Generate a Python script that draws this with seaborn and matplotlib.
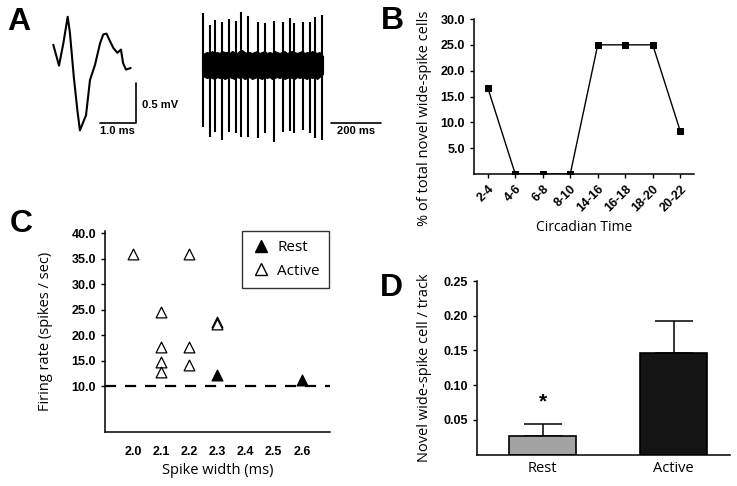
import matplotlib
matplotlib.use("Agg")
import matplotlib.pyplot as plt
import seaborn as sns
import numpy as np
import pandas as pd
from matplotlib.lines import Line2D

# ---- data ----
# A: single wide spike (time in ms, voltage in mV)
wave_t = [0.0, 0.16, 0.28, 0.40, 0.46, 0.57, 0.67, 0.74, 0.91, 1.02, 1.16, 1.30,
          1.39, 1.48, 1.56, 1.67, 1.78, 1.88, 1.94, 2.02, 2.15]
wave_v = [0.69, 0.43, 0.71, 1.04, 0.85, 0.29, -0.13, -0.38, -0.19, 0.25, 0.44, 0.71,
          0.82, 0.83, 0.75, 0.65, 0.59, 0.63, 0.46, 0.38, 0.40]

# A: raw trace (time in ms, amplitude in a.u.)
spike_times = [4, 32, 52, 80, 108, 136, 156, 184, 224, 252, 288, 324, 352, 368, 404, 432, 452, 480]
spike_tops = [52, 40, 45, 43, 46, 44, 53, 49, 43, 42, 44, 43, 47, 42, 43, 43, 48, 50]
spike_bottoms = [-62, -72, -67, -75, -67, -68, -72, -72, -73, -68, -77, -67, -66, -68, -65, -68, -73, -75]
band_t = [0, 10, 20, 30, 40, 50, 60, 70, 80, 90, 100, 110, 120, 130, 140, 150, 160, 170,
          180, 190, 200, 210, 220, 230, 240, 250, 260, 270, 280, 290, 300, 310, 320, 330,
          340, 350, 360, 370, 380, 390, 400, 410, 420, 430, 440, 450, 460, 470, 484]
band_upper = [8, 12, 13, 12, 14, 12, 13, 12, 14, 13, 13, 12, 14, 13, 12, 14, 15, 13,
              12, 13, 12, 13, 14, 12, 13, 14, 12, 13, 12, 14, 13, 12, 13, 14,
              12, 13, 14, 13, 12, 13, 14, 12, 13, 12, 14, 13, 12, 13, 9]
band_lower = [-8, -12, -13, -12, -13, -14, -12, -13, -12, -14, -13, -12, -13, -14, -12, -13, -12, -14,
              -13, -12, -14, -13, -12, -13, -14, -12, -13, -12, -14, -13, -12, -13, -12, -14,
              -13, -12, -13, -14, -12, -13, -12, -13, -14, -12, -13, -12, -14, -12, -9]

# B: circadian distribution
circ_times = ["2-4", "4-6", "6-8", "8-10", "14-16", "16-18", "18-20", "20-22"]
pct_cells = [16.7, 0.0, 0.0, 0.0, 25.0, 25.0, 25.0, 8.3]

# C: spike width vs firing rate
active_width = [2.0, 2.1, 2.1, 2.1, 2.1, 2.2, 2.2, 2.2, 2.3, 2.3]
active_rate = [35.8, 24.5, 17.7, 14.8, 12.7, 35.9, 17.7, 14.2, 22.6, 22.1]
rest_width = [2.3, 2.6]
rest_rate = [12.2, 11.2]

# D: novel wide-spike cells per track
states = ["Rest", "Active"]
cells_per_track = [0.026, 0.146]
cells_sem = [0.018, 0.047]

# ---- style ----
sns.set_style("ticks")
plt.rcParams["font.family"] = ["Liberation Sans", "DejaVu Sans"]
plt.rcParams["text.color"] = "black"
plt.rcParams["axes.labelcolor"] = "black"
LABEL_FONT = ["Open Sans", "DejaVu Sans"]
W, H = 737, 486


def box(x0, y0, x1, y1):
    # pixel box -> figure fraction rect
    return [x0 / W, 1 - y1 / H, (x1 - x0) / W, (y1 - y0) / H]


def style_axes(ax):
    sns.despine(ax=ax)
    for s in ("left", "bottom"):
        ax.spines[s].set_linewidth(1.1)
        ax.spines[s].set_color("black")
    ax.tick_params(direction="out", length=3, width=1, colors="black", labelsize=9)
    for lab in ax.get_xticklabels() + ax.get_yticklabels():
        lab.set_fontweight("bold")


fig = plt.figure(figsize=(W / 100, H / 100), dpi=100)

# ---- A: waveform ----
axw = fig.add_axes(box(45, 5, 185, 145))
sns.lineplot(x=wave_t, y=wave_v, ax=axw, color="black", linewidth=1.5, sort=False)
axw.plot([1.30, 2.30, 2.30], [-0.29, -0.29, 0.21], color="black", linewidth=1.2)
axw.text(2.47, -0.06, "0.5 mV", fontsize=8, fontweight="bold", va="center", ha="left")
axw.text(1.77, -0.33, "1.0 ms", fontsize=8, fontweight="bold", va="top", ha="center")
axw.set_xlim(-0.23, 3.66)
axw.set_ylim(-0.5625, 1.1875)
axw.axis("off")

# ---- A: raw trace ----
axr = fig.add_axes(box(195, 5, 395, 145))
axr.fill_between(band_t, band_lower, band_upper, color="black", linewidth=0.8)
axr.vlines(spike_times, spike_bottoms, spike_tops, color="black", linewidth=1.5)
axr.plot([516, 716], [-58, -58], color="black", linewidth=1.2)
axr.text(616, -61, "200 ms", fontsize=8, fontweight="bold", va="top", ha="center")
axr.set_xlim(-28, 772)
axr.set_ylim(-80, 60)
axr.axis("off")

# ---- B ----
axb = fig.add_axes(box(474, 19, 694, 174))
sns.pointplot(x=circ_times, y=pct_cells, ax=axb, color="black", markers="s",
              markersize=5, linewidth=1, errorbar=None)
axb.set_ylim(0, 30)
axb.set_xlim(-0.5, 7.5)
axb.set_yticks([5, 10, 15, 20, 25, 30])
axb.set_yticklabels([f"{v:.1f}" for v in [5, 10, 15, 20, 25, 30]])
style_axes(axb)
plt.setp(axb.get_xticklabels(), rotation=45, ha="right", rotation_mode="anchor")
axb.set_xlabel("Circadian Time", fontsize=10, family=LABEL_FONT, labelpad=4)
axb.set_ylabel("% of total novel wide-spike cells", fontsize=10.5, family=LABEL_FONT)
axb.yaxis.set_label_coords(-0.19, 0.36)

# ---- C ----
axc = fig.add_axes(box(105, 231, 330, 432))
sns.scatterplot(x=active_width, y=active_rate, ax=axc, marker="^", s=60,
                facecolor="white", edgecolor="black", linewidth=0.9, zorder=3)
sns.scatterplot(x=rest_width, y=rest_rate, ax=axc, marker="^", s=60,
                color="black", edgecolor="black", linewidth=0.9, zorder=3)
axc.axhline(10, color="black", linestyle=(0, (5, 4)), linewidth=1.6)
axc.set_xlim(1.9, 2.7)
axc.set_ylim(1, 40.4)
axc.set_xticks([2.0, 2.1, 2.2, 2.3, 2.4, 2.5, 2.6])
axc.set_xticklabels([f"{v:.1f}" for v in [2.0, 2.1, 2.2, 2.3, 2.4, 2.5, 2.6]])
axc.set_yticks([10, 15, 20, 25, 30, 35, 40])
axc.set_yticklabels([f"{v:.1f}" for v in [10, 15, 20, 25, 30, 35, 40]])
style_axes(axc)
axc.tick_params(axis="x", length=0, pad=10)
axc.set_xlabel("Spike width (ms)", fontsize=10.5, family=LABEL_FONT, labelpad=4)
axc.set_ylabel("Firing rate (spikes / sec)", fontsize=10.5, family=LABEL_FONT)
axc.yaxis.set_label_coords(-0.23, 0.5)
handles = [Line2D([], [], marker="^", linestyle="none", markersize=8,
                  markerfacecolor="black", markeredgecolor="black"),
           Line2D([], [], marker="^", linestyle="none", markersize=8,
                  markerfacecolor="white", markeredgecolor="black")]
leg = axc.legend(handles, ["Rest", "Active"], loc="upper right",
                 bbox_to_anchor=(0.996, 1.0), borderaxespad=0, frameon=True, fancybox=False,
                 prop={"family": LABEL_FONT, "size": 11}, handletextpad=0.5,
                 borderpad=0.6, labelspacing=0.55, handlelength=1.2)
leg.get_frame().set_edgecolor("black")
leg.get_frame().set_linewidth(1.0)

# ---- D ----
axd = fig.add_axes(box(477, 281, 730, 454.5))
sns.barplot(x=states, y=cells_per_track, ax=axd, hue=states,
            palette=["#a3a3a3", "#141414"], edgecolor="black", linewidth=1.2,
            width=0.51, legend=False, errorbar=None)
axd.errorbar(range(len(states)), cells_per_track, yerr=[[0] * len(states), cells_sem],
             fmt="none", ecolor="black", elinewidth=1.1, capsize=14, capthick=1.1, zorder=0)
axd.text(0, cells_per_track[0] + cells_sem[0] + 0.032, "*", fontsize=15,
         fontweight="bold", ha="center", va="center")
axd.set_xlim(-0.5, 1.43)
axd.set_ylim(0, 0.25)
axd.set_yticks([0.05, 0.10, 0.15, 0.20, 0.25])
axd.set_yticklabels([f"{v:.2f}" for v in [0.05, 0.10, 0.15, 0.20, 0.25]])
style_axes(axd)
axd.tick_params(axis="x", length=0, pad=5)
for lab in axd.get_xticklabels():
    lab.set_fontweight("normal")
    lab.set_family(LABEL_FONT)
    lab.set_fontsize(10.5)
axd.set_xlabel("")
axd.set_ylabel("Novel wide-spike cell / track", fontsize=10.5, family=LABEL_FONT)
axd.yaxis.set_label_coords(-0.178, 0.5)

# ---- panel letters ----
for letter, (px, py) in {"A": (19, 22), "B": (392, 21), "C": (21, 224), "D": (391, 288)}.items():
    fig.text(px / W, 1 - py / H, letter, fontsize=23, fontweight="bold",
             ha="center", va="center")

fig.savefig("out.png", dpi=100)
